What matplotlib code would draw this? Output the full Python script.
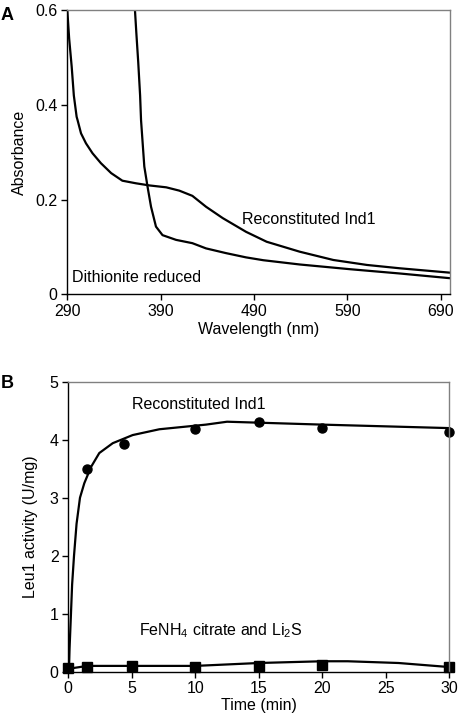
import matplotlib
matplotlib.use("Agg")
import matplotlib.pyplot as plt

plt.rcParams['font.family'] = ['Liberation Sans', 'DejaVu Sans']
plt.rcParams['mathtext.fontset'] = 'custom'
plt.rcParams['mathtext.rm'] = 'Liberation Sans'

# Panel A: spectra
recon_wl = [290, 292, 294.7, 297, 300, 301, 304.7, 310, 317, 326, 337, 349, 363.6, 378, 396, 410, 424, 438.6, 456.5, 481.5, 503.6, 539, 575, 611, 646, 700]
recon_abs = [0.60, 0.54, 0.481, 0.42, 0.375, 0.368, 0.340, 0.319, 0.298, 0.277, 0.256, 0.240, 0.2345, 0.230, 0.226, 0.219, 0.208, 0.185, 0.161, 0.132, 0.111, 0.090, 0.0725, 0.062, 0.055, 0.0457]
dith_wl = [362.5, 364, 366, 368, 369, 372.5, 376, 379.7, 385, 392, 406.5, 424, 438.6, 460, 481.5, 500, 539, 593, 646, 700]
dith_abs = [0.60, 0.551, 0.49, 0.42, 0.368, 0.270, 0.227, 0.185, 0.143, 0.125, 0.115, 0.108, 0.097, 0.087, 0.078, 0.072, 0.063, 0.053, 0.044, 0.034]

# Panel B: activity
time_recon = [1.5, 4.4, 10, 15, 20, 30]
act_recon = [3.49, 3.92, 4.18, 4.31, 4.21, 4.14]
fit_t = [0.05, 0.1, 0.21, 0.3, 0.45, 0.65, 0.92, 1.26, 1.79, 2.44, 3.5, 5.07, 7.17, 10.84, 12.5, 20, 30]
fit_recon = [0.0, 0.4, 1.0, 1.5, 2.0, 2.55, 3.0, 3.25, 3.53, 3.77, 3.94, 4.08, 4.18, 4.26, 4.31, 4.26, 4.20]
time_fe = [0, 1.45, 5, 10, 15, 20, 30]
act_fe = [0.06, 0.075, 0.10, 0.075, 0.09, 0.12, 0.075]
fit_fe_t = [0, 1.5, 5, 10, 15, 20, 22, 26, 30]
fit_fe = [0.05, 0.10, 0.10, 0.10, 0.15, 0.18, 0.18, 0.15, 0.08]

W, H = 460, 722
FS = 11.5
fig = plt.figure(figsize=(W/100, H/100), dpi=100)

def style(ax):
    for s in ['top', 'right']:
        ax.spines[s].set_color('#808080')
    for s in ['left', 'bottom']:
        ax.spines[s].set_color('black')
    for s in ax.spines.values():
        s.set_linewidth(1.0)
    ax.tick_params(direction='out', length=4, width=1, labelsize=FS, pad=3)

axA = fig.add_axes([67.3/W, 1-294.3/H, (450-67.3)/W, (294.3-10.3)/H])
axA.plot(recon_wl, recon_abs, color='black', lw=1.6)
axA.plot(dith_wl, dith_abs, color='black', lw=1.6)
axA.set_xlim(290, 700)
axA.set_ylim(0, 0.6)
axA.set_xticks([290, 390, 490, 590, 690])
axA.set_yticks([0, 0.2, 0.4, 0.6])
axA.set_yticklabels(['0', '0.2', '0.4', '0.6'])
axA.set_xlabel('Wavelength (nm)', fontsize=FS, labelpad=2)
axA.set_ylabel('Absorbance', fontsize=FS, labelpad=6)
axA.text(549, 0.158, 'Reconstituted Ind1', fontsize=FS, ha='center', va='center')
axA.text(364, 0.036, 'Dithionite reduced', fontsize=FS, ha='center', va='center')
style(axA)
fig.text(1/W, 1-16/H, 'A', fontsize=13, fontweight='bold', va='center')

axB = fig.add_axes([68.3/W, 1-671.7/H, (449.3-68.3)/W, (671.7-381.7)/H])
axB.plot(fit_t, fit_recon, color='black', lw=1.6, clip_on=False)
axB.plot(time_recon, act_recon, 'o', color='black', ms=6.5, clip_on=False)
axB.plot(fit_fe_t, fit_fe, color='black', lw=1.6, clip_on=False)
axB.plot(time_fe, act_fe, 's', color='black', ms=6.5, clip_on=False)
axB.set_xlim(0, 30)
axB.set_ylim(0, 5)
axB.set_xticks([0, 5, 10, 15, 20, 25, 30])
axB.set_yticks([0, 1, 2, 3, 4, 5])
axB.set_xlabel('Time (min)', fontsize=FS, labelpad=1)
axB.set_ylabel('Leu1 activity (U/mg)', fontsize=FS, labelpad=8)
axB.text(10.3, 4.6, 'Reconstituted Ind1', fontsize=FS, ha='center', va='center')
axB.text(12.0, 0.7, r'FeNH$_4$ citrate and Li$_2$S', fontsize=FS, ha='center', va='center')
style(axB)
fig.text(1/W, 1-384/H, 'B', fontsize=13, fontweight='bold', va='center')

fig.savefig('out.png', dpi=100)
